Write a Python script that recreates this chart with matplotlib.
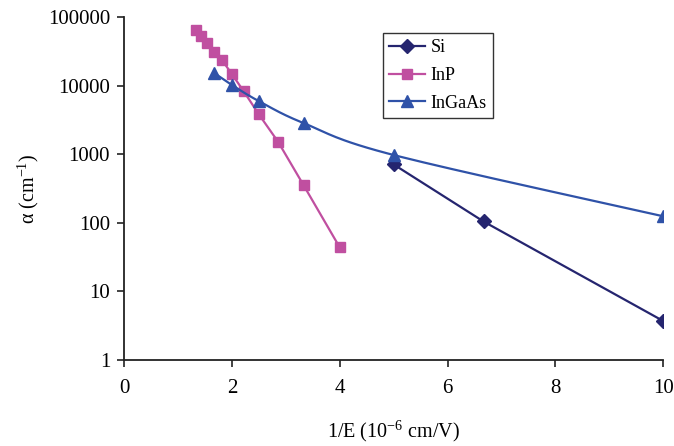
import numpy as np
import matplotlib
matplotlib.use("Agg")
import matplotlib.pyplot as plt
from matplotlib.ticker import FixedLocator, FixedFormatter, NullLocator

plt.rcParams['font.family'] = ['Liberation Serif', 'DejaVu Serif']
plt.rcParams['mathtext.fontset'] = 'custom'
plt.rcParams['mathtext.rm'] = 'Liberation Serif'
plt.rcParams['mathtext.it'] = 'Liberation Serif:italic'

# Data
si_x = [5.0, 6.667, 10.0]
si_y = [714, 105, 3.7]

inp_x = [1.333, 1.429, 1.538, 1.667, 1.818, 2.0, 2.222, 2.5, 2.857, 3.333, 4.0]
inp_y = [65300, 53900, 42600, 31500, 23800, 14900, 8300, 3850, 1530, 352, 44]

ingaas_x = [1.667, 2.0, 2.5, 3.333, 5.0, 10.0]
ingaas_y = [15500, 10300, 6000, 2860, 980, 125]

x_ticks = [0, 2, 4, 6, 8, 10]
y_ticks = [1, 10, 100, 1000, 10000, 100000]
y_tick_labels = ['1', '10', '100', '1000', '10000', '100000']

c_si = '#25256F'
c_inp = '#C04FA0'
c_ingaas = '#2F52A8'

fig = plt.figure(figsize=(6.74, 4.46), dpi=100)
ax = fig.add_axes([0.184, 0.193, 0.800, 0.768])
ax.set_yscale('log')
ax.set_xlim(0, 10)
ax.set_ylim(1, 100000)

def smooth_curve(ax, xs, ys, n=30):
    # Catmull-Rom smoothing in display space (like spreadsheet smoothed lines)
    pts = ax.transData.transform(np.column_stack([xs, ys]))
    P = np.vstack([pts[0], pts, pts[-1]])
    out = []
    for i in range(1, len(P) - 2):
        p0, p1, p2, p3 = P[i - 1], P[i], P[i + 1], P[i + 2]
        t = np.linspace(0, 1, n)[:, None]
        seg = 0.5 * ((2 * p1) + (-p0 + p2) * t + (2 * p0 - 5 * p1 + 4 * p2 - p3) * t ** 2
                     + (-p0 + 3 * p1 - 3 * p2 + p3) * t ** 3)
        out.append(seg)
    out = np.vstack(out)
    return ax.transData.inverted().transform(out)

ax.plot(si_x, si_y, color=c_si, lw=1.6, marker='D', ms=6.8, label='Si', zorder=3)
ax.plot(inp_x, inp_y, color=c_inp, lw=1.6, marker='s', ms=7.5, label='InP', zorder=3)
curve = smooth_curve(ax, ingaas_x, ingaas_y)
ax.plot(curve[:, 0], curve[:, 1], color=c_ingaas, lw=1.6, zorder=3)
ax.plot(ingaas_x, ingaas_y, color=c_ingaas, lw=0, marker='^', ms=8.5, zorder=4)
ax.plot([], [], color=c_ingaas, lw=1.6, marker='^', ms=8.5, label='InGaAs')

for s in ['top', 'right']:
    ax.spines[s].set_visible(False)
for s in ['left', 'bottom']:
    ax.spines[s].set_linewidth(1.3)
    ax.spines[s].set_color('#222222')

ax.xaxis.set_major_locator(FixedLocator(x_ticks))
ax.yaxis.set_major_locator(FixedLocator(y_ticks))
ax.yaxis.set_major_formatter(FixedFormatter(y_tick_labels))
ax.yaxis.set_minor_locator(NullLocator())
ax.tick_params(axis='both', direction='out', length=5, width=1.2, labelsize=15, color='#222222')
ax.tick_params(axis='x', pad=9)
ax.tick_params(axis='y', pad=5)

ax.set_xlabel('1/E (10$^{-6}$ cm/V)', fontsize=14.5, labelpad=15)
ax.set_ylabel('α (cm$^{-1}$)', fontsize=14.5, labelpad=5)

leg = ax.legend(loc='upper left', bbox_to_anchor=(0.48, 0.955), borderaxespad=0,
                fontsize=13, frameon=True, fancybox=False, edgecolor='black',
                handlelength=2.0, handletextpad=0.3, labelspacing=0.6, borderpad=0.35)
leg.get_frame().set_linewidth(1.0)

fig.savefig('out.png', dpi=100)
